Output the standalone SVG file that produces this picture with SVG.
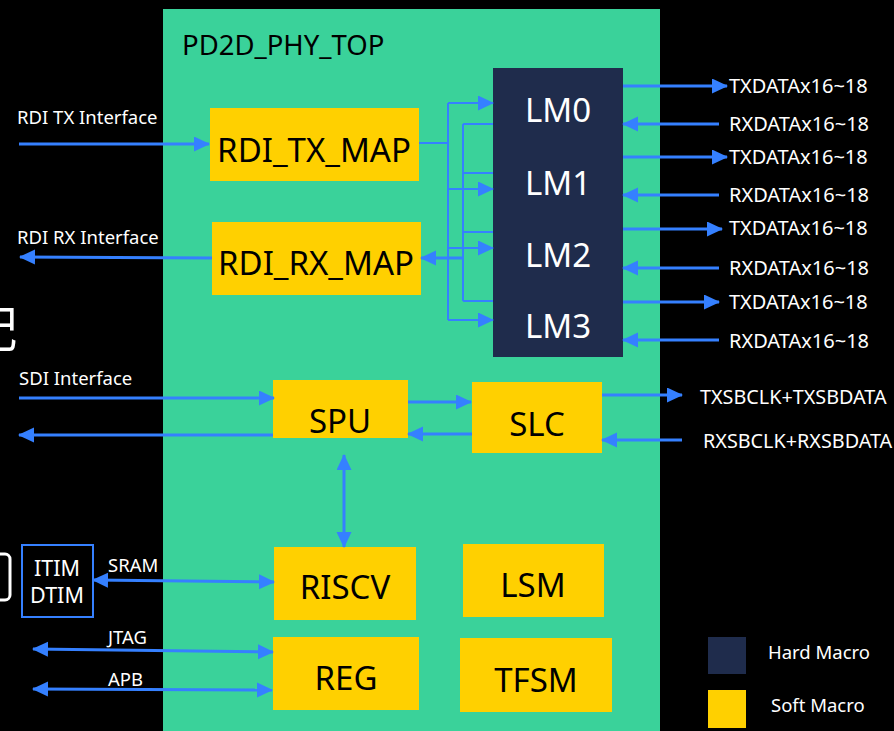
<svg xmlns="http://www.w3.org/2000/svg" width="894" height="731" viewBox="0 0 894 731">
  <style>
    .soft { fill: #ffd000; }
    .hard { fill: #1f2c4c; }
    .blk { font-family: "Noto Sans", "Open Sans", sans-serif; font-size: 33px; fill: #000; text-anchor: middle; }
    .lm { font-family: "Noto Sans", "Open Sans", sans-serif; font-size: 33px; fill: #fff; text-anchor: middle; }
    .lbl { font-family: "Noto Sans", "Open Sans", sans-serif; font-size: 18.5px; fill: #fff; }
    .sig { font-family: "Noto Sans", "Open Sans", sans-serif; font-size: 20px; fill: #fff; }
    .sb { font-family: "Noto Sans", "Open Sans", sans-serif; font-size: 19.8px; fill: #fff; }
    .mem { font-family: "Noto Sans", "Open Sans", sans-serif; font-size: 21.5px; fill: #fff; text-anchor: middle; }
    .w { stroke: #3580ff; stroke-width: 3; fill: none; }
    .b { stroke: #3580ff; stroke-width: 2; fill: none; }
    .a { marker-end: url(#ah); }
    .aa { marker-start: url(#ah); marker-end: url(#ah); }
  </style>
  <defs>
    <marker id="ah" markerUnits="userSpaceOnUse" markerWidth="16" markerHeight="16" refX="15" refY="7.5" orient="auto-start-reverse">
      <path d="M0,0 L16,7.5 L0,15 z" fill="#3580ff"/>
    </marker>
  </defs>

  <rect width="894" height="731" fill="#000"/>

  <!-- partially visible edge items -->
  <text x="17" y="347" font-family="Noto Sans CJK SC, sans-serif" font-size="49" fill="#fff" text-anchor="end">配</text>
  <rect x="-60" y="554" width="70" height="46" rx="5" fill="none" stroke="#fff" stroke-width="3"/>

  <g id="top">
    <rect x="163" y="9" width="497" height="730" fill="#3ad29a"/>
    <text x="182" y="55" font-family="Noto Sans, Open Sans, sans-serif" font-size="27.5" fill="#000">PD2D_PHY_TOP</text>
  </g>

  <g id="lm">
    <rect class="hard" x="493" y="68" width="130" height="289"/>
    <text class="lm" x="558" y="122">LM0</text>
    <text class="lm" x="558" y="195">LM1</text>
    <text class="lm" x="558" y="267">LM2</text>
    <text class="lm" x="558" y="338">LM3</text>
  </g>

  <g id="rdi_tx_map">
    <rect class="soft" x="210" y="108" width="209" height="73"/>
    <text class="blk" x="314" y="162">RDI_TX_MAP</text>
  </g>
  <g id="rdi_rx_map">
    <rect class="soft" x="212" y="222" width="209" height="73"/>
    <text class="blk" x="316" y="275">RDI_RX_MAP</text>
  </g>
  <g id="spu">
    <rect class="soft" x="273" y="380" width="135" height="58"/>
    <text class="blk" x="340" y="433">SPU</text>
  </g>
  <g id="slc">
    <rect class="soft" x="472" y="382" width="130" height="71"/>
    <text class="blk" x="537" y="436">SLC</text>
  </g>
  <g id="riscv">
    <rect class="soft" x="274" y="547" width="142" height="73"/>
    <text class="blk" x="345" y="599">RISCV</text>
  </g>
  <g id="lsm">
    <rect class="soft" x="463" y="544" width="141" height="73"/>
    <text class="blk" x="533" y="597">LSM</text>
  </g>
  <g id="reg">
    <rect class="soft" x="273" y="637" width="146" height="73"/>
    <text class="blk" x="346" y="690">REG</text>
  </g>
  <g id="tfsm">
    <rect class="soft" x="460" y="638" width="152" height="74"/>
    <text class="blk" x="536" y="692">TFSM</text>
  </g>
  <g id="itim">
    <rect x="22" y="545" width="71" height="72" fill="none" stroke="#3580ff" stroke-width="2"/>
    <text class="mem" x="57" y="576">ITIM</text>
    <text class="mem" x="57" y="603">DTIM</text>
  </g>

  <g id="connectors">
    <!-- RDI interfaces -->
    <line class="w a" x1="19" y1="144" x2="209" y2="144"/>
    <line class="w a" x1="212" y1="258" x2="20" y2="257"/>
    <!-- TX map fan-out to lanes -->
    <path class="b" d="M419,143 H448 M448,103 V320"/>
    <line class="b a" x1="448" y1="103" x2="493" y2="103"/>
    <line class="b a" x1="448" y1="189" x2="493" y2="189"/>
    <line class="b a" x1="448" y1="248" x2="493" y2="248"/>
    <line class="b a" x1="448" y1="320" x2="493" y2="320"/>
    <!-- lanes collected to RX map -->
    <path class="b" d="M493,124 H463 M493,173 H463 M493,232 H463 M493,301 H463 M463,124 V301"/>
    <line class="w a" x1="463" y1="258" x2="421" y2="258"/>
    <!-- lane data -->
    <line class="w a" x1="623" y1="86" x2="727" y2="86"/>
    <line class="w a" x1="719" y1="124" x2="623" y2="124"/>
    <line class="w a" x1="623" y1="157" x2="727" y2="157"/>
    <line class="w a" x1="719" y1="195" x2="623" y2="195"/>
    <line class="w a" x1="623" y1="229" x2="722" y2="229"/>
    <line class="w a" x1="719" y1="268" x2="623" y2="268"/>
    <line class="w a" x1="623" y1="302" x2="719" y2="302"/>
    <line class="w a" x1="719" y1="340" x2="623" y2="340"/>
    <!-- SDI -->
    <line class="w a" x1="19" y1="398" x2="274" y2="398"/>
    <line class="w a" x1="273" y1="435" x2="19" y2="435"/>
    <line class="w a" x1="408" y1="402" x2="471" y2="402"/>
    <line class="w a" x1="472" y1="434" x2="408" y2="434"/>
    <line class="w a" x1="602" y1="395" x2="682" y2="395"/>
    <line class="w a" x1="682" y1="440" x2="602" y2="440"/>
    <!-- SPU <-> RISCV -->
    <line class="w aa" x1="344" y1="455" x2="344" y2="547"/>
    <!-- SRAM / JTAG / APB -->
    <line class="w aa" x1="93" y1="580" x2="274" y2="582"/>
    <line class="w aa" x1="33" y1="649" x2="273" y2="652"/>
    <line class="w aa" x1="33" y1="689" x2="272" y2="690"/>
  </g>

  <g id="labels">
    <text class="lbl" x="17" y="124">RDI TX Interface</text>
    <text class="lbl" x="17" y="244">RDI RX Interface</text>
    <text class="lbl" x="19" y="385">SDI Interface</text>
    <text class="lbl" x="108" y="572">SRAM</text>
    <text class="lbl" x="108" y="644">JTAG</text>
    <text class="lbl" x="108" y="686">APB</text>
    <text class="sig" x="729" y="93">TXDATAx16~18</text>
    <text class="sig" x="729" y="131">RXDATAx16~18</text>
    <text class="sig" x="729" y="164">TXDATAx16~18</text>
    <text class="sig" x="729" y="202">RXDATAx16~18</text>
    <text class="sig" x="729" y="235">TXDATAx16~18</text>
    <text class="sig" x="729" y="275">RXDATAx16~18</text>
    <text class="sig" x="729" y="309">TXDATAx16~18</text>
    <text class="sig" x="729" y="348">RXDATAx16~18</text>
    <text class="sb" x="700" y="404">TXSBCLK+TXSBDATA</text>
    <text class="sb" x="703" y="448">RXSBCLK+RXSBDATA</text>
  </g>

  <g id="legend">
    <rect class="hard" x="708" y="637" width="38" height="37"/>
    <rect class="soft" x="708" y="690" width="38" height="38"/>
    <text class="lbl" x="768" y="659">Hard Macro</text>
    <text class="lbl" x="771" y="712">Soft Macro</text>
  </g>
</svg>
